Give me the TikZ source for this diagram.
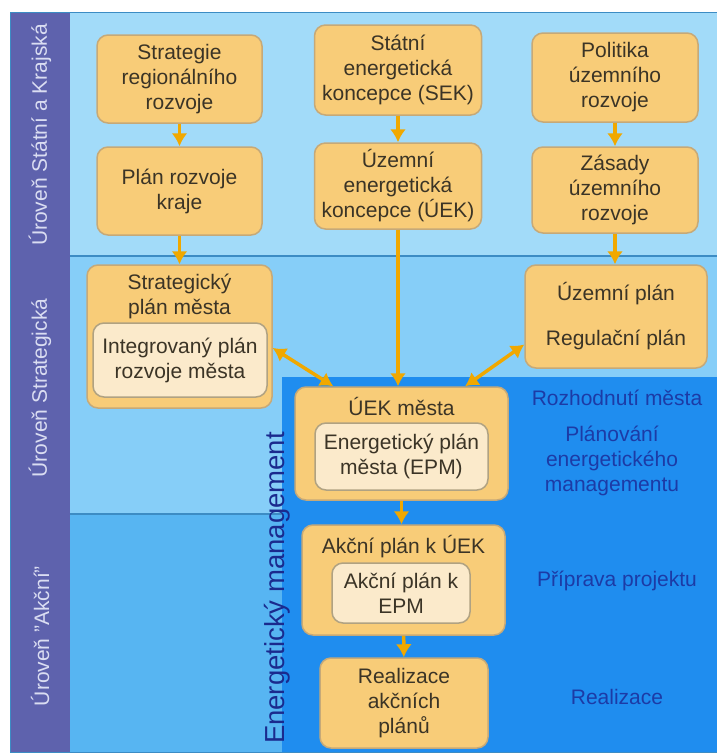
\documentclass[tikz,border=0pt]{standalone}
\usepackage{fontspec}
\setmainfont{Liberation Sans}
\usetikzlibrary{arrows.meta}

\definecolor{bandtop}{HTML}{A2DBF9}
\definecolor{bandmid}{HTML}{86CEF8}
\definecolor{bandlow}{HTML}{57B5F2}
\definecolor{bandem}{HTML}{1F8DEF}
\definecolor{bandline}{HTML}{3C8CC4}
\definecolor{levelfill}{HTML}{5E62AD}
\definecolor{leveltext}{HTML}{DADDF2}
\definecolor{boxfill}{HTML}{F8CC78}
\definecolor{boxline}{HTML}{C6A978}
\definecolor{infill}{HTML}{FBEACB}
\definecolor{inline}{HTML}{B0A282}
\definecolor{boxtext}{HTML}{3B3426}
\definecolor{arrowc}{HTML}{F0A800}
\definecolor{phasetext}{HTML}{1C3BA6}
\definecolor{emtext}{HTML}{1A2A8E}

\tikzstyle{box}=[draw=boxline, fill=boxfill, line width=1.5pt, rounded corners=11pt, align=center, text=boxtext, inner sep=2pt, font=\fontsize{21}{25}\selectfont]
\tikzstyle{inbox}=[box, draw=inline, fill=infill]
\tikzstyle{boxtitle}=[align=center, text=boxtext, inner sep=0pt, font=\fontsize{21}{25}\selectfont]
\tikzstyle{level}=[rotate=90, text=leveltext, font=\fontsize{21}{25}\selectfont]
\tikzstyle{phase}=[align=center, text=phasetext, font=\fontsize{21}{25}\selectfont]
\tikzstyle{arrow}=[draw=arrowc, line width=3.5pt, -{Latex[length=13pt,width=16pt]}]
\tikzstyle{twoway}=[arrow, {Latex[length=13pt,width=16pt]}-{Latex[length=13pt,width=16pt]}]

\begin{document}
\begin{tikzpicture}[x=1pt, y=-1pt]
      \useasboundingbox (0,0) rectangle (717,755);

      % levels
      \fill[bandtop] (10,12) rectangle (717,256);
      \fill[bandmid] (10,256) rectangle (717,514);
      \fill[bandlow] (10,514) rectangle (717,752);
      \fill[bandem] (282,377) rectangle (717,752);
      \draw[bandline, line width=1.5pt] (70,256) -- (717,256);
      \draw[bandline, line width=1.5pt] (70,514) -- (282,514);
      \fill[levelfill] (10,12) rectangle (70,752);
      \draw[bandline, line width=1pt] (10,12) rectangle (717,752);

      \node[level] (lvtop) at (40,135) {Úroveň Státní a Krajská};
      \node[level] (lvmid) at (40,388) {Úroveň Strategická};
      \node[level] (lvlow) at (40,636) {Úroveň "Akční"};
      \node[rotate=90, anchor=base, text=emtext, font=\fontsize{27.5}{30}\selectfont] (em) at (284,588) {Energetický management};

      % state and region
      \node[box, minimum width=165, minimum height=88] (strat) at (179.5,79) {Strategie\\regionálního\\rozvoje};
      \node[box, minimum width=165, minimum height=88] (krplan) at (179.5,191) {Plán rozvoje\\kraje};
      \node[box, minimum width=167, minimum height=90] (sek) at (398,70) {Státní\\energetická\\koncepce (SEK)};
      \node[box, minimum width=167, minimum height=86] (uek) at (398,186) {Územní\\energetická\\koncepce (ÚEK)};
      \node[box, minimum width=166, minimum height=89] (pur) at (615,77.5) {Politika\\územního\\rozvoje};
      \node[box, minimum width=166, minimum height=86] (zur) at (615,190) {Zásady\\územního\\rozvoje};

      % city
      \node[box, minimum width=185, minimum height=143] (spm) at (179.5,336.5) {};
      \node[boxtitle] (spmtitle) at (179.5,296) {Strategický\\plán města};
      \node[inbox, minimum width=174, minimum height=74] (ipr) at (180,360) {Integrovaný plán\\rozvoje města};
      \node[box, minimum width=182, minimum height=103] (upl) at (616,316.5) {Územní plán\\[20pt]Regulační plán};
      \node[box, minimum width=213, minimum height=113] (uekm) at (401.5,443.5) {};
      \node[boxtitle] (uekmtitle) at (401.5,406) {ÚEK města};
      \node[inbox, minimum width=173, minimum height=67] (epm) at (401.5,456.5) {Energetický plán\\města (EPM)};

      % action
      \node[box, minimum width=203, minimum height=110] (akp) at (403.5,580) {};
      \node[boxtitle] (akptitle) at (403.5,547) {Akční plán k ÚEK};
      \node[inbox, minimum width=138, minimum height=60] (akepm) at (401,593) {Akční plán k\\EPM};
      \node[box, minimum width=168, minimum height=90] (real) at (404,703) {Realizace\\akčních\\plánů};

      % phases
      \node[phase] (rozh) at (617,398) {Rozhodnutí města};
      \node[phase] (plan) at (612,461) {Plánování\\energetického\\managementu};
      \node[phase] (prip) at (617,581) {Příprava projektu};
      \node[phase] (reali) at (617,697) {Realizace};

      \draw[arrow] (strat) to (krplan);
      \draw[arrow] (krplan) to (spm);
      \draw[arrow] (sek) to (uek);
      \draw[arrow] (uek.south) to (uek.south |- uekm.north);
      \draw[arrow] (pur) to (zur);
      \draw[arrow] (zur) to (zur.south |- upl.north);
      \draw[twoway] (spm.-7) to (uekm.140);
      \draw[twoway] (upl.197) to (uekm.42);
      \draw[arrow] (uekm.south) to (uekm.south |- akp.north);
      \draw[arrow] (akp) to (real);
    \end{tikzpicture}
\end{document}
